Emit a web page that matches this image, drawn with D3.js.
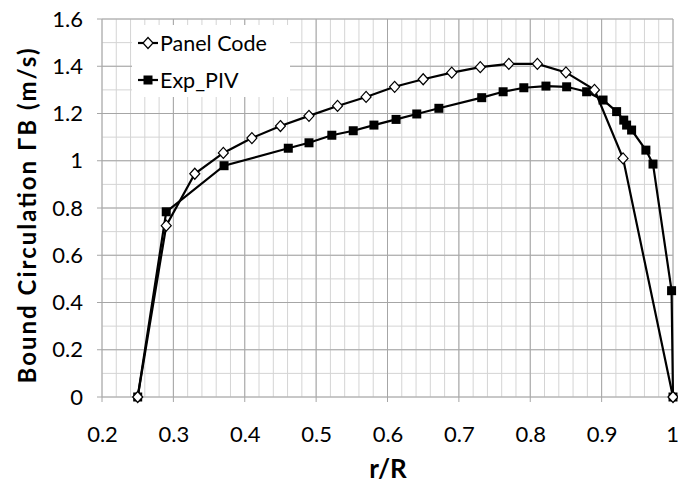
<!DOCTYPE html>
<html><head><meta charset="utf-8">
<script src="https://cdn.jsdelivr.net/npm/d3@7"></script>
<style>body{margin:0;background:#fff}svg{display:block}</style>
</head><body>
<svg id="c" width="678" height="483"></svg>
<script>
const panelX = [0.25,0.29,0.33,0.37,0.41,0.45,0.49,0.53,0.57,0.61,0.65,0.69,0.73,0.77,0.81,0.85,0.89,0.93,1.0];
const panelY = [0,0.725,0.945,1.033,1.096,1.147,1.19,1.232,1.27,1.313,1.345,1.373,1.396,1.41,1.41,1.374,1.30,1.01,0];
const expX = [0.25,0.29,0.371,0.461,0.49,0.522,0.552,0.581,0.612,0.641,0.672,0.732,0.762,0.791,0.822,0.851,0.879,0.902,0.921,0.931,0.935,0.942,0.962,0.972,0.998,1.0];
const expY = [0,0.784,0.979,1.053,1.076,1.108,1.127,1.151,1.175,1.198,1.222,1.267,1.292,1.309,1.316,1.313,1.292,1.257,1.208,1.172,1.151,1.13,1.045,0.986,0.45,0];
const xTicks = [0.2,0.3,0.4,0.5,0.6,0.7,0.8,0.9,1];
const yTicks = [0,0.2,0.4,0.6,0.8,1,1.2,1.4,1.6];
const seriesNames = ["Panel Code","Exp_PIV"];

const svg = d3.select("#c");
const x = d3.scaleLinear().domain([0.2,1]).range([102,673]);
const y = d3.scaleLinear().domain([0,1.6]).range([397,19]);
const font = "Lato, 'Open Sans', sans-serif";

// minor grid
const g = svg.append("g");
g.selectAll("line.mx").data(d3.range(0.2,1.0001,0.02)).join("line")
  .attr("x1",d=>x(d)).attr("x2",d=>x(d)).attr("y1",y(0)).attr("y2",y(1.6))
  .attr("stroke","#d4d4d4").attr("stroke-width",1);
g.selectAll("line.my").data(d3.range(0,1.6001,0.1)).join("line")
  .attr("y1",d=>y(d)).attr("y2",d=>y(d)).attr("x1",x(0.2)).attr("x2",x(1))
  .attr("stroke","#d4d4d4").attr("stroke-width",1);
// major grid
g.selectAll("line.Mx").data(xTicks).join("line")
  .attr("x1",d=>x(d)).attr("x2",d=>x(d)).attr("y1",y(0)+5).attr("y2",y(1.6))
  .attr("stroke","#a6a6a6").attr("stroke-width",1);
g.selectAll("line.My").data(yTicks).join("line")
  .attr("y1",d=>y(d)).attr("y2",d=>y(d)).attr("x1",x(0.2)-5).attr("x2",x(1))
  .attr("stroke","#a6a6a6").attr("stroke-width",1);

// axes labels
svg.append("g").attr("transform",`translate(0,${y(0)})`)
  .call(d3.axisBottom(x).tickValues(xTicks).tickFormat(d=>d===1?"1":d3.format(".1f")(d)).tickSize(0).tickPadding(29))
  .call(a=>a.select(".domain").remove())
  .selectAll("text").attr("font-family",font).attr("font-size",22).attr("fill","#000")
  .attr("dx",d=>d===1?-1:0);
svg.append("g").attr("transform",`translate(${x(0.2)},0)`)
  .call(d3.axisLeft(y).tickValues(yTicks).tickFormat(d=>(d===0||d===1)?String(d):d3.format(".1f")(d)).tickSize(0).tickPadding(19))
  .call(a=>a.select(".domain").remove())
  .selectAll("text").attr("font-family",font).attr("font-size",22).attr("fill","#000");

// legend background
svg.append("rect").attr("x",132).attr("y",25).attr("width",158).attr("height",72).attr("fill","#fff");

// lines
const line = d3.line().x(d=>x(d[0])).y(d=>y(d[1]));
const panel = panelX.map((v,i)=>[v,panelY[i]]);
const exp = expX.map((v,i)=>[v,expY[i]]);
svg.append("path").datum(exp).attr("d",line).attr("fill","none").attr("stroke","#000").attr("stroke-width",2.2);
svg.append("path").datum(panel).attr("d",line).attr("fill","none").attr("stroke","#000").attr("stroke-width",2.2);

const diamond = (sel)=>sel.attr("d","M0,-5.5L5,0L0,5.5L-5,0Z").attr("fill","#fff").attr("stroke","#000").attr("stroke-width",1.2);
svg.selectAll("rect.sq").data(exp).join("rect")
  .attr("x",d=>x(d[0])-4.5).attr("y",d=>y(d[1])-4.5).attr("width",9).attr("height",9).attr("fill","#000");
svg.selectAll("path.dm").data(panel).join("path")
  .attr("transform",d=>`translate(${x(d[0])},${y(d[1])})`).call(diamond);

// legend
const lg = svg.append("g");
lg.append("line").attr("x1",138).attr("x2",158).attr("y1",43).attr("y2",43).attr("stroke","#000").attr("stroke-width",2.2);
lg.append("path").attr("transform","translate(148,43)").call(diamond);
lg.append("text").attr("x",160).attr("y",43).attr("dy","0.35em").text(seriesNames[0]).attr("font-family",font).attr("font-size",21.5);
lg.append("line").attr("x1",138).attr("x2",158).attr("y1",80).attr("y2",80).attr("stroke","#000").attr("stroke-width",2.2);
lg.append("rect").attr("x",143.5).attr("y",75.5).attr("width",9).attr("height",9).attr("fill","#000");
lg.append("text").attr("x",160).attr("y",80).attr("dy","0.35em").text(seriesNames[1]).attr("font-family",font).attr("font-size",21.5);

// titles
svg.append("text").attr("x",388).attr("y",469).attr("dy","0.35em").attr("text-anchor","middle")
  .attr("font-family",font).attr("font-weight","bold").attr("font-size",26).text("r/R");
svg.append("text").attr("transform","translate(28,216) rotate(-90)").attr("dy","0.35em").attr("text-anchor","middle")
  .attr("font-family",font).attr("font-weight","bold").attr("font-size",24)
  .attr("textLength",335).attr("lengthAdjust","spacing").text("Bound Circulation ΓB (m/s)");
</script>
</body></html>
